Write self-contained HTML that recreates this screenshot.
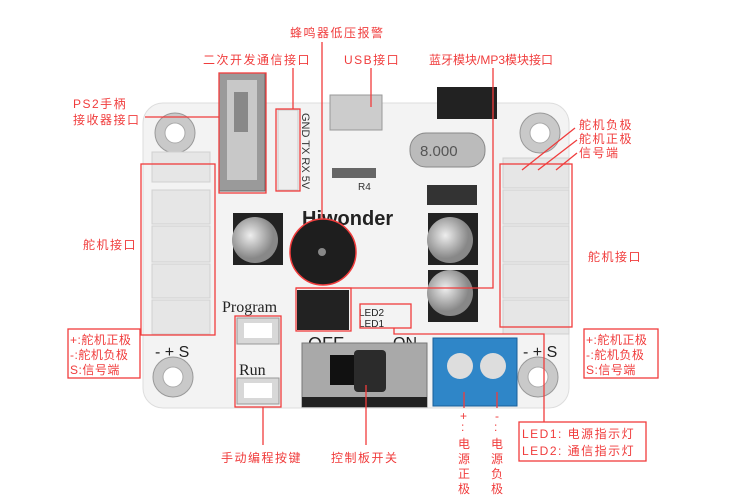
<!DOCTYPE html>
<html><head><meta charset="utf-8"><style>
body{margin:0;background:#fff;}
svg{display:block;font-family:"Liberation Sans","Noto Sans CJK SC",sans-serif;}
.r{fill:#f03c3c;font-size:12px;letter-spacing:1.5px;}
</style></head><body>
<svg width="750" height="503" viewBox="0 0 750 503" xmlns="http://www.w3.org/2000/svg">
<defs>
<radialGradient id="cap" cx="0.4" cy="0.4"><stop offset="0" stop-color="#eee"/><stop offset="1" stop-color="#888"/></radialGradient>
</defs>
<rect x="143" y="103" width="426" height="305" rx="20" fill="#f3f3f3" stroke="#ddd"/>
<g fill="#c9c9c9" stroke="#999">
<circle cx="175" cy="133" r="20"/><circle cx="540" cy="133" r="20"/>
<circle cx="173" cy="377" r="20"/><circle cx="538" cy="377" r="20"/>
</g>
<g fill="#fff" stroke="#aaa"><circle cx="175" cy="133" r="10"/><circle cx="540" cy="133" r="10"/><circle cx="173" cy="377" r="10"/><circle cx="538" cy="377" r="10"/></g>
<g fill="#e6e6e6" stroke="#d0d0d0">
<rect x="152" y="152" width="58" height="30"/><rect x="152" y="190" width="58" height="34"/><rect x="152" y="226" width="58" height="36"/><rect x="152" y="264" width="58" height="34"/><rect x="152" y="300" width="58" height="34"/>
<rect x="503" y="158" width="66" height="30"/><rect x="503" y="190" width="66" height="34"/><rect x="503" y="226" width="66" height="36"/><rect x="503" y="264" width="66" height="34"/><rect x="503" y="300" width="66" height="34"/>
</g>
<rect x="219" y="73" width="46" height="118" fill="#9a9a9a" stroke="#666"/>
<rect x="227" y="80" width="30" height="100" fill="#c8c8c8"/>
<rect x="234" y="92" width="14" height="40" fill="#888"/>
<rect x="278" y="110" width="20" height="80" fill="#eee" stroke="#ccc"/>
<text x="302" y="113" font-size="11" fill="#333" transform="rotate(90 302 113)">GND TX RX 5V</text>
<rect x="330" y="95" width="52" height="35" fill="#ccc" stroke="#999"/>
<rect x="437" y="87" width="60" height="32" fill="#222"/>
<rect x="410" y="133" width="75" height="34" rx="16" fill="#bbb" stroke="#888"/>
<text x="420" y="156" font-size="15" fill="#555">8.000</text>
<rect x="427" y="185" width="50" height="20" fill="#333"/>
<rect x="332" y="168" width="44" height="10" fill="#666"/><text x="358" y="190" font-size="10" fill="#333">R4</text>
<text x="302" y="225" font-size="20" font-weight="bold" fill="#222">Hiwonder</text>
<rect x="233" y="213" width="50" height="52" fill="#222"/><circle cx="255" cy="240" r="23" fill="url(#cap)"/>
<rect x="428" y="213" width="50" height="52" fill="#222"/><circle cx="450" cy="240" r="23" fill="url(#cap)"/>
<rect x="428" y="270" width="50" height="52" fill="#222"/><circle cx="450" cy="293" r="23" fill="url(#cap)"/>
<circle cx="323" cy="252" r="33" fill="#1e1e1e" stroke="#f03c3c" stroke-width="1.5"/>
<circle cx="322" cy="252" r="4" fill="#888"/>
<rect x="297" y="290" width="52" height="40" fill="#222"/>
<text x="222" y="312" font-size="16" font-family="Liberation Serif,serif" fill="#222">Program</text>
<text x="239" y="375" font-size="16" font-family="Liberation Serif,serif" fill="#222">Run</text>
<rect x="237" y="318" width="42" height="26" fill="#d8d8d8" stroke="#999"/><rect x="244" y="323" width="28" height="15" fill="#fff"/>
<rect x="237" y="378" width="42" height="26" fill="#d8d8d8" stroke="#999"/><rect x="244" y="383" width="28" height="15" fill="#fff"/>
<text x="308" y="350" font-size="18" fill="#222">OFF</text><text x="393" y="348" font-size="16" fill="#222">ON</text>
<rect x="302" y="343" width="125" height="64" fill="#a9a9a9" stroke="#777"/>
<rect x="330" y="355" width="30" height="30" fill="#111"/><rect x="354" y="350" width="32" height="42" rx="4" fill="#2b2b2b"/>
<rect x="302" y="397" width="125" height="10" fill="#222"/>
<rect x="433" y="338" width="84" height="68" fill="#2f86c8" stroke="#1a5f99"/>
<circle cx="460" cy="366" r="13" fill="#ddd"/><circle cx="493" cy="366" r="13" fill="#ddd"/>
<text x="359" y="316" font-size="10" fill="#222">LED2</text><text x="359" y="327" font-size="10" fill="#222">LED1</text>
<text x="155" y="357" font-size="16" fill="#222">- + S</text><text x="523" y="357" font-size="16" fill="#222">- + S</text>
<g fill="none" stroke="#f03c3c" stroke-width="1.3">
<rect x="219" y="73" width="47" height="120"/>
<rect x="276" y="109" width="24" height="82"/>
<line x1="293" y1="68" x2="293" y2="109"/>
<line x1="145" y1="117" x2="219" y2="117"/>
<line x1="322" y1="42" x2="322" y2="219"/>
<line x1="371" y1="68" x2="371" y2="107"/>
<polyline points="493,68 493,288 296,288"/>
<rect x="296" y="288" width="55" height="43"/>
<rect x="360" y="304" width="51" height="24"/>
<polyline points="394,328 394,334 544,334 544,422"/>
<rect x="519" y="422" width="127" height="39"/>
<rect x="141" y="164" width="74" height="171"/>
<rect x="500" y="164" width="72" height="163"/>
<rect x="68" y="329" width="72" height="49"/>
<rect x="584" y="329" width="74" height="49"/>
<rect x="235" y="316" width="46" height="91"/>
<line x1="263" y1="407" x2="263" y2="445"/>
<line x1="366" y1="385" x2="366" y2="445"/>
<line x1="464" y1="392" x2="464" y2="408"/>
<line x1="497" y1="392" x2="497" y2="408"/>
<line x1="575" y1="128" x2="522" y2="170"/>
<line x1="577" y1="140" x2="538" y2="170"/>
<line x1="577" y1="153" x2="556" y2="170"/>
</g>
<g class="r">
<text x="290" y="37">蜂鸣器低压报警</text>
<text x="203" y="64">二次开发通信接口</text>
<text x="344" y="64">USB接口</text>
<text x="429" y="64" letter-spacing="0">蓝牙模块/MP3模块接口</text>
<text x="73" y="108">PS2手柄</text>
<text x="73" y="124">接收器接口</text>
<text x="579" y="129">舵机负极</text>
<text x="579" y="143">舵机正极</text>
<text x="579" y="157">信号端</text>
<text x="83" y="249">舵机接口</text>
<text x="588" y="261">舵机接口</text>
<text x="70" y="344" letter-spacing="0.5">+:舵机正极</text>
<text x="70" y="359" letter-spacing="0.5">-:舵机负极</text>
<text x="70" y="374" letter-spacing="0.5">S:信号端</text>
<text x="586" y="344" letter-spacing="0.5">+:舵机正极</text>
<text x="586" y="359" letter-spacing="0.5">-:舵机负极</text>
<text x="586" y="374" letter-spacing="0.5">S:信号端</text>
<text x="522" y="438">LED1: 电源指示灯</text>
<text x="522" y="455">LED2: 通信指示灯</text>
<text x="221" y="462">手动编程按键</text>
<text x="331" y="462">控制板开关</text>
<text x="460" y="420">+</text><text x="461" y="431">:</text>
<text x="458" y="448">电</text><text x="458" y="463">源</text><text x="458" y="478">正</text><text x="458" y="493">极</text>
<text x="495" y="420">-</text><text x="494" y="431">:</text>
<text x="491" y="448">电</text><text x="491" y="463">源</text><text x="491" y="478">负</text><text x="491" y="493">极</text>
</g>
</svg>
</body></html>
